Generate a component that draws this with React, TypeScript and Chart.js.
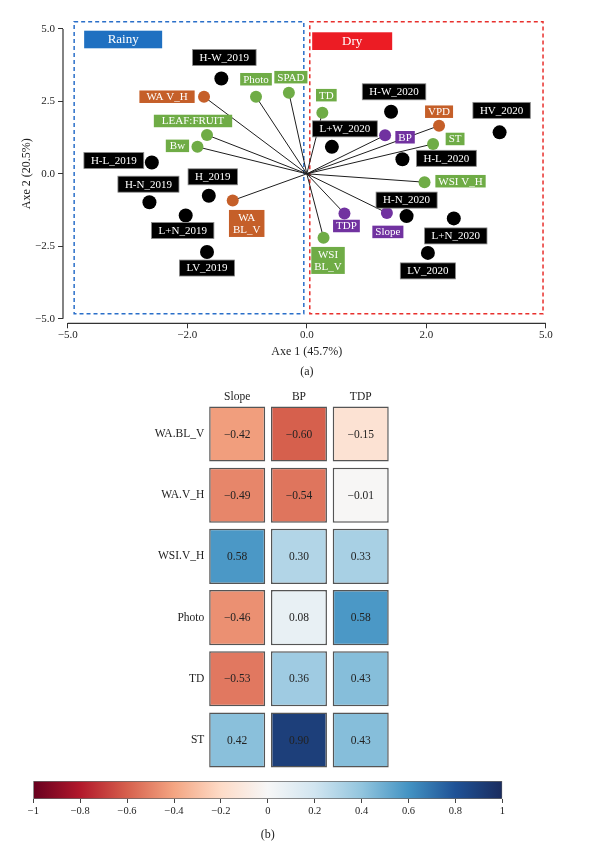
import { useEffect, useRef } from 'react';
import { Chart, registerables } from 'chart.js';
Chart.register(...registerables);

const FONT = "'Liberation Serif', 'DejaVu Serif', serif";

// ---------- (a) PCA biplot data ----------
const obsNames = ['H-W_2019', 'H-L_2019', 'H-N_2019', 'H_2019', 'L+N_2019', 'LV_2019', 'H-W_2020', 'HV_2020', 'L+W_2020', 'H-L_2020', 'H-N_2020', 'L+N_2020', 'LV_2020'];
const obsAxe1 = [-1.43, -2.89, -2.95, -1.64, -2.04, -1.67, 1.41, 3.84, 0.42, 1.60, 1.67, 2.69, 2.04];
const obsAxe2 = [3.29, 0.39, -0.98, -0.76, -1.44, -2.70, 2.14, 1.43, 0.93, 0.50, -1.46, -1.54, -2.73];

const varNames = ['WA V_H', 'Photo', 'SPAD', 'LEAF:FRUIT', 'Bw', 'WA\nBL_V', 'TD', 'BP', 'VPD', 'ST', 'WSI V_H', 'TDP', 'Slope', 'WSI\nBL_V'];
const varAxe1 = [-1.72, -0.85, -0.30, -1.67, -1.83, -1.24, 0.26, 1.31, 2.32, 2.17, 1.97, 0.63, 1.34, 0.28];
const varAxe2 = [2.66, 2.66, 2.80, 1.34, 0.93, -0.92, 2.11, 1.33, 1.66, 1.03, -0.29, -1.37, -1.35, -2.21];
const varGroup = ['water', 'plant', 'plant', 'plant', 'plant', 'water', 'plant', 'soil', 'water', 'plant', 'plant', 'soil', 'soil', 'plant'];

const xTickValues = [-5, -2, 0, 2, 5];
const yTickValues = [-5, -2.5, 0, 2.5, 5];

// season regions (axis units)
const rainyRegion = { x0: -4.84, x1: -0.05, y0: -4.83, y1: 5.25 };
const dryRegion = { x0: 0.05, x1: 4.93, y0: -4.83, y1: 5.25 };

// label placement (pixel offsets from the point)
const obsLabelOffset = [[3, -21], [-38, -2], [-1, -18], [4, -19], [-3, 15], [0, 16], [3, -20], [2, -22], [13, -18], [44, -1], [0, -16], [2, 17.5], [0, 18]];
const varLabelOffset = [[-37, 0], [0, -17.5], [2, -15.5], [-14, -14], [-20, -1], [14, 23], [4, -17.5], [20, 2], [0, -14], [22, -5], [36, -1], [2, 12.5], [1, 19], [4.5, 22.6]];
const varLabelPad = [7, 3, 3, 8, 4, 4, 3, 3, 3, 3, 3, 3, 3, 3];

const groupColor: Record<string, string> = { water: '#c55f29', plant: '#6fac46', soil: '#7132a0' };

// ---------- (b) correlation heat map data ----------
const heatRows = ['WA.BL_V', 'WA.V_H', 'WSI.V_H', 'Photo', 'TD', 'ST'];
const heatCols = ['Slope', 'BP', 'TDP'];
const corrSlope = [-0.42, -0.49, 0.58, -0.46, -0.53, 0.42];
const corrBP = [-0.60, -0.54, 0.30, 0.08, 0.36, 0.90];
const corrTDP = [-0.15, -0.01, 0.33, 0.58, 0.43, 0.43];
const corrByCol = [corrSlope, corrBP, corrTDP];
const colorbarTicks = [-1, -0.8, -0.6, -0.4, -0.2, 0, 0.2, 0.4, 0.6, 0.8, 1];

const rdbuStops = ['#67001f', '#b2182b', '#d6604d', '#f4a582', '#fddbc7', '#f7f7f7', '#d1e5f0', '#92c5de', '#4393c3', '#1f5296', '#1a2c5e'];

// ---------- helpers ----------
const toPos = (v: number) => { const a = Math.abs(v); return a <= 2 ? v / 2 : Math.sign(v) * (1 + (a - 2) / 3); };
const fromPos = (p: number) => { const a = Math.abs(p); return a <= 1 ? 2 * p : Math.sign(p) * (2 + 3 * (a - 1)); };
const fmt = (v: number, d: number) => { const r = Math.abs(v) < 1e-9 ? 0 : v; return (r < 0 ? '\u2212' : '') + Math.abs(r).toFixed(d); };
const fmtShort = (v: number) => { const r = Math.round(v * 10) / 10; return (r < 0 ? '\u2212' : '') + String(Math.abs(r)); };

const hex = (h: string) => [1, 3, 5].map(i => parseInt(h.slice(i, i + 2), 16));
function rdbu(v: number) {
  const t = Math.max(0, Math.min(1, (v + 1) / 2)) * (rdbuStops.length - 1);
  const i = Math.min(Math.floor(t), rdbuStops.length - 2);
  const f = t - i;
  const a = hex(rdbuStops[i]); const b = hex(rdbuStops[i + 1]);
  const c = a.map((x, k) => Math.round(x + (b[k] - x) * f));
  return `rgb(${c[0]},${c[1]},${c[2]})`;
}

function drawTag(ctx: CanvasRenderingContext2D, text: string, cx: number, cy: number, bg: string, padX: number, hSingle: number, border?: string) {
  const lines = text.split('\n');
  ctx.save();
  ctx.font = `11px ${FONT}`;
  const w = Math.max(...lines.map(l => ctx.measureText(l).width)) + padX * 2;
  const lh = 12;
  const h = lines.length === 1 ? hSingle : lines.length * lh + 3;
  ctx.fillStyle = bg;
  ctx.fillRect(cx - w / 2, cy - h / 2, w, h);
  if (border) { ctx.strokeStyle = border; ctx.lineWidth = 0.8; ctx.strokeRect(cx - w / 2, cy - h / 2, w, h); }
  ctx.fillStyle = '#fff';
  ctx.textAlign = 'center';
  ctx.textBaseline = 'middle';
  lines.forEach((l, k) => ctx.fillText(l, cx, cy + (k - (lines.length - 1) / 2) * lh + 0.5));
  ctx.restore();
}

// ---------- plugins ----------
const biplotDecor = {
  id: 'biplotDecor',
  beforeDatasetsDraw(chart: any) {
    const { ctx, scales: { x, y } } = chart;
    ctx.save();
    const drawRegion = (r: any, color: string) => {
      ctx.setLineDash([4, 3]);
      ctx.strokeStyle = color; ctx.lineWidth = 1.5;
      const l = x.getPixelForValue(toPos(r.x0)); const rr = x.getPixelForValue(toPos(r.x1));
      const t = y.getPixelForValue(r.y1); const b = y.getPixelForValue(r.y0);
      ctx.strokeRect(l, t, rr - l, b - t);
      return { l, t };
    };
    const rb = drawRegion(rainyRegion, '#2a6fc9');
    const db = drawRegion(dryRegion, '#e8302d');
    ctx.setLineDash([]);
    ctx.fillStyle = '#1f70c1';
    ctx.fillRect(rb.l + 10, rb.t + 9, 78, 17.6);
    ctx.fillStyle = '#ec1c24';
    ctx.fillRect(db.l + 2.4, db.t + 10.6, 80, 17.7);
    ctx.fillStyle = '#fff';
    ctx.font = `13px ${FONT}`;
    ctx.textAlign = 'center'; ctx.textBaseline = 'middle';
    ctx.fillText('Rainy', rb.l + 10 + 39, rb.t + 9 + 9);
    ctx.fillText('Dry', db.l + 2.4 + 40, db.t + 10.6 + 9);
    ctx.strokeStyle = '#333'; ctx.lineWidth = 1.2;
    ctx.beginPath();
    ctx.moveTo(x.left, y.getPixelForValue(yTickValues[0]));
    ctx.lineTo(x.left, y.getPixelForValue(yTickValues[yTickValues.length - 1]));
    ctx.moveTo(x.getPixelForValue(toPos(xTickValues[0])), y.bottom);
    ctx.lineTo(x.getPixelForValue(toPos(xTickValues[xTickValues.length - 1])), y.bottom);
    ctx.stroke();
    ctx.restore();
  },
  afterDatasetsDraw(chart: any) {
    const ctx = chart.ctx;
    chart.getDatasetMeta(0).data.forEach((el: any, i: number) => {
      const [dx, dy] = obsLabelOffset[i];
      drawTag(ctx, obsNames[i], el.x + dx, el.y + dy, '#000', 7, 16, '#8a8a8a');
    });
    chart.getDatasetMeta(1).data.forEach((el: any, i: number) => {
      const [dx, dy] = varLabelOffset[i];
      drawTag(ctx, varNames[i], el.x + dx, el.y + dy, groupColor[varGroup[i]], varLabelPad[i], 12.5);
    });
  },
  afterDraw(chart: any) {
    const { ctx, chartArea } = chart;
    ctx.save();
    ctx.fillStyle = '#222';
    ctx.textAlign = 'center'; ctx.textBaseline = 'middle';
    ctx.font = `12px ${FONT}`;
    const cx = (chartArea.left + chartArea.right) / 2;
    ctx.fillText('Axe 1 (45.7%)', cx, chartArea.bottom + 29);
    ctx.fillText('(a)', cx, chartArea.bottom + 49);
    ctx.translate(27, (chartArea.top + chartArea.bottom) / 2);
    ctx.rotate(-Math.PI / 2);
    ctx.fillText('Axe 2 (20.5%)', 0, 0);
    ctx.restore();
  },
};

const heatValues = {
  id: 'heatValues',
  afterDatasetsDraw(chart: any) {
    const ctx = chart.ctx;
    ctx.save();
    ctx.font = `11.5px ${FONT}`;
    ctx.fillStyle = '#222';
    ctx.textAlign = 'center'; ctx.textBaseline = 'middle';
    heatRows.forEach((_, i) => {
      chart.getDatasetMeta(i).data.forEach((el: any, j: number) => {
        const c = el.getCenterPoint();
        ctx.fillText(fmt(corrByCol[j][i], 2), c.x, c.y + 0.5);
      });
    });
    ctx.restore();
  },
};

const colorbarCaption = {
  id: 'colorbarCaption',
  afterDraw(chart: any) {
    const { ctx, chartArea } = chart;
    ctx.save();
    ctx.font = `12px ${FONT}`;
    ctx.fillStyle = '#222';
    ctx.textAlign = 'center'; ctx.textBaseline = 'middle';
    ctx.fillText('(b)', (chartArea.left + chartArea.right) / 2, chartArea.bottom + 36);
    ctx.restore();
  },
};

// ---------- configs ----------
function biplotConfig(): any {
  const lines = varNames.map((n, i) => ({
    type: 'line', label: 'vec ' + n,
    data: [{ x: 0, y: 0 }, { x: toPos(varAxe1[i]), y: varAxe2[i] }],
    borderColor: '#1e1e1e', borderWidth: 1, pointRadius: 0, fill: false, order: 10,
  }));
  return {
    type: 'scatter',
    data: {
      datasets: [
        { label: 'obs', data: obsAxe1.map((v, i) => ({ x: toPos(v), y: obsAxe2[i] })), pointRadius: 7, backgroundColor: '#000', borderWidth: 0, order: 0 },
        { label: 'vars', data: varAxe1.map((v, i) => ({ x: toPos(v), y: varAxe2[i] })), pointRadius: 6, backgroundColor: varGroup.map(g => groupColor[g]), borderWidth: 0, order: 1 },
        ...lines,
      ],
    },
    options: {
      responsive: false, animation: false, devicePixelRatio: 1,
      layout: { padding: { left: 0, top: 24.3, right: 49.4, bottom: 862 - 323.3 - 30 } },
      plugins: { legend: { display: false }, tooltip: { enabled: false } },
      scales: {
        x: {
          type: 'linear', min: -2.04, max: 2.04,
          afterBuildTicks: (s: any) => { s.ticks = xTickValues.map(v => ({ value: toPos(v) })); },
          afterFit: (s: any) => { s.height = 30; },
          ticks: { callback: (v: number) => fmt(fromPos(v), 1), font: { family: FONT, size: 11 }, color: '#222', padding: 0, maxRotation: 0, autoSkip: false },
          grid: { drawOnChartArea: false, tickLength: 5, color: '#333' },
          border: { display: false },
        },
        y: {
          type: 'linear', min: -5.16, max: 5.16,
          afterBuildTicks: (s: any) => { s.ticks = yTickValues.map(v => ({ value: v })); },
          afterFit: (s: any) => { s.width = 63; },
          ticks: { callback: (v: number) => fmt(v, 1), font: { family: FONT, size: 11 }, color: '#222', padding: 3, autoSkip: false },
          grid: { drawOnChartArea: false, tickLength: 5, color: '#333' },
          border: { display: false },
        },
      },
    },
    plugins: [biplotDecor],
  };
}

function heatConfig(): any {
  return {
    type: 'bar',
    data: {
      labels: heatCols,
      datasets: heatRows.map((r, i) => ({
        label: r,
        data: heatCols.map(() => [i - 0.45, i + 0.45]),
        backgroundColor: corrByCol.map(col => rdbu(col[i])),
        borderColor: '#555', borderWidth: 1.5, borderSkipped: false,
        grouped: false, barPercentage: 0.907, categoryPercentage: 1,
      })),
    },
    options: {
      responsive: false, animation: false, devicePixelRatio: 1,
      layout: { padding: { left: 106.3, right: 208.4, top: 383.4, bottom: 91.4 } },
      plugins: { legend: { display: false }, tooltip: { enabled: false } },
      scales: {
        x: {
          type: 'category', position: 'top',
          afterFit: (s: any) => { s.height = 20; },
          ticks: { font: { family: FONT, size: 11.5 }, color: '#222', padding: 0 },
          grid: { display: false, drawTicks: false }, border: { display: false },
        },
        y: {
          type: 'linear', reverse: true, min: -0.5, max: 5.5,
          afterBuildTicks: (s: any) => { s.ticks = heatRows.map((_, i) => ({ value: i })); },
          afterFit: (s: any) => { s.width = 100; },
          ticks: { callback: (v: number) => heatRows[v], font: { family: FONT, size: 11.5 }, color: '#222', padding: 2, autoSkip: false },
          grid: { display: false, drawTicks: false }, border: { display: false },
        },
      },
    },
    plugins: [heatValues],
  };
}

function colorbarConfig(): any {
  return {
    type: 'bar',
    data: {
      labels: [''],
      datasets: [{
        label: 'scale', data: [[colorbarTicks[0], colorbarTicks[colorbarTicks.length - 1]]],
        backgroundColor: (c: any) => {
          const chart = c.chart;
          if (!chart.chartArea) return '#ccc';
          const xs = chart.scales.x;
          const g = chart.ctx.createLinearGradient(xs.getPixelForValue(-1), 0, xs.getPixelForValue(1), 0);
          rdbuStops.forEach((s, k) => g.addColorStop(k / (rdbuStops.length - 1), s));
          return g;
        },
        borderColor: '#666', borderWidth: 1, borderSkipped: false,
        barPercentage: 1, categoryPercentage: 1,
      }],
    },
    options: {
      indexAxis: 'y',
      responsive: false, animation: false, devicePixelRatio: 1,
      layout: { padding: { left: 33.3, right: 97.7, top: 781, bottom: 33 } },
      plugins: { legend: { display: false }, tooltip: { enabled: false } },
      scales: {
        x: {
          type: 'linear', min: -1, max: 1,
          afterBuildTicks: (s: any) => { s.ticks = colorbarTicks.map(v => ({ value: v })); },
          afterFit: (s: any) => { s.height = 30; },
          ticks: { callback: (v: number) => fmtShort(v), font: { family: FONT, size: 10.5 }, color: '#222', padding: 1.5, maxRotation: 0, autoSkip: false },
          grid: { drawOnChartArea: false, tickLength: 4, color: '#444' },
          border: { display: false },
        },
        y: { display: false },
      },
    },
    plugins: [colorbarCaption],
  };
}

function ChartCanvas({ make }: { make: () => any }) {
  const ref = useRef<HTMLCanvasElement>(null);
  useEffect(() => {
    const chart = new Chart(ref.current as HTMLCanvasElement, make());
    return () => chart.destroy();
  }, [make]);
  return <canvas ref={ref} width={600} height={862} style={{ position: 'absolute', left: 0, top: 0, width: 600, height: 862 }} />;
}

export default function App() {
  return (
    <div style={{ position: 'absolute', left: 0, top: 0, width: 600, height: 862, background: '#fff' }}>
      <ChartCanvas make={biplotConfig} />
      <ChartCanvas make={heatConfig} />
      <ChartCanvas make={colorbarConfig} />
    </div>
  );
}
